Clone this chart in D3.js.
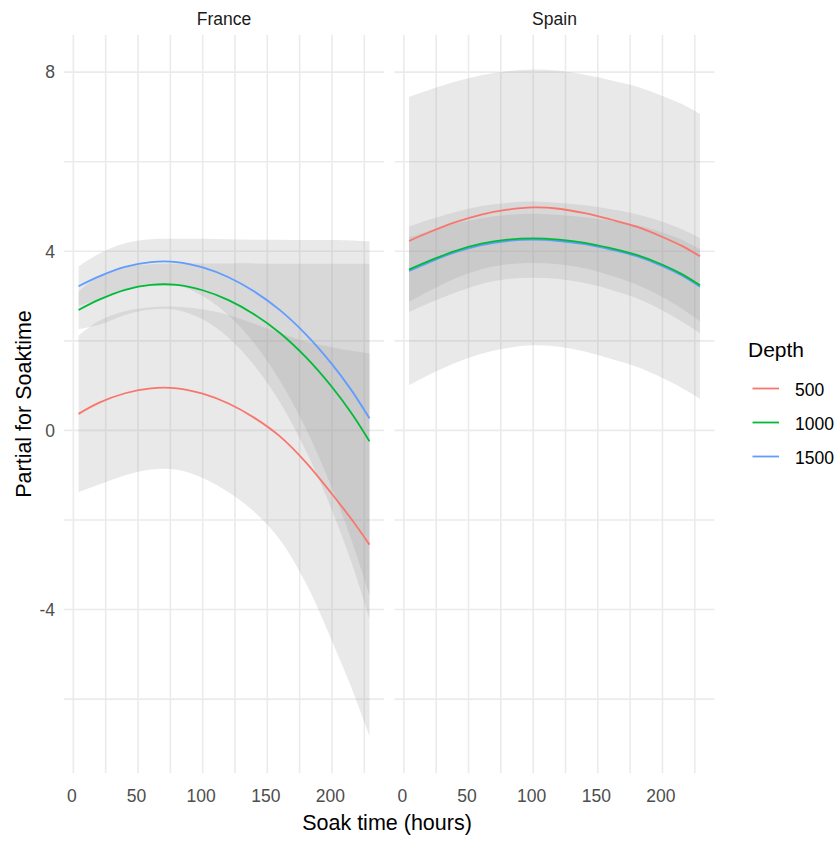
<!DOCTYPE html>
<html>
<head>
<meta charset="utf-8">
<script src="https://cdn.jsdelivr.net/npm/d3@7"></script>
<style>
  html, body { margin: 0; padding: 0; background: #ffffff; }
  svg { display: block; }
  text { font-family: "Liberation Sans", Arial, sans-serif; }
</style>
</head>
<body>
<svg id="chart" width="838" height="842"></svg>
<script>
// ---------------- data ----------------
const soakHours = [4, 20, 40, 60, 80, 100, 120, 140, 160, 180, 200, 215, 229];
const countries = ["France", "Spain"];
const depths = ["500", "1000", "1500"];
const depthColors = ["#F8766D", "#00BA38", "#619CFF"];

// France
const franceFit500   = [0.37, 0.62, 0.83, 0.94, 0.94, 0.82, 0.60, 0.28, -0.14, -0.72, -1.42, -1.98, -2.55];
const franceUpper500 = [2.12, 2.45, 2.66, 2.75, 2.76, 2.70, 2.58, 2.38, 2.17, 1.98, 1.86, 1.78, 1.72];
const franceLower500 = [-1.38, -1.21, -1.00, -0.87, -0.88, -1.06, -1.38, -1.82, -2.45, -3.42, -4.70, -5.74, -6.82];

const franceFit1000   = [2.69, 2.92, 3.14, 3.25, 3.25, 3.13, 2.91, 2.59, 2.17, 1.63, 0.97, 0.39, -0.24];
const franceUpper1000 = [3.10, 3.45, 3.64, 3.71, 3.73, 3.73, 3.73, 3.73, 3.72, 3.72, 3.72, 3.72, 3.72];
const franceLower1000 = [2.26, 2.36, 2.58, 2.70, 2.69, 2.48, 2.07, 1.45, 0.62, -0.46, -1.78, -2.94, -4.20];

const franceFit1500   = [3.22, 3.44, 3.65, 3.76, 3.76, 3.64, 3.42, 3.10, 2.68, 2.14, 1.48, 0.90, 0.27];
const franceUpper1500 = [3.66, 3.95, 4.18, 4.27, 4.28, 4.28, 4.27, 4.26, 4.26, 4.25, 4.25, 4.24, 4.22];
const franceLower1500 = [2.78, 2.93, 3.12, 3.25, 3.24, 3.00, 2.57, 1.94, 1.10, 0.03, -1.29, -2.44, -3.68];

// Spain
const spainFit500   = [4.23, 4.43, 4.65, 4.82, 4.93, 4.98, 4.95, 4.85, 4.71, 4.55, 4.32, 4.12, 3.89];
const spainUpper500 = [7.45, 7.61, 7.79, 7.93, 8.02, 8.06, 8.03, 7.94, 7.82, 7.68, 7.47, 7.29, 7.07];
const spainLower500 = [1.01, 1.25, 1.51, 1.71, 1.84, 1.90, 1.87, 1.76, 1.60, 1.42, 1.17, 0.95, 0.71];

const spainFit1000   = [3.59, 3.79, 4.01, 4.17, 4.26, 4.29, 4.26, 4.19, 4.07, 3.92, 3.70, 3.49, 3.24];
const spainUpper1000 = [4.31, 4.46, 4.62, 4.74, 4.81, 4.84, 4.81, 4.76, 4.68, 4.58, 4.42, 4.26, 4.05];
const spainLower1000 = [2.87, 3.12, 3.40, 3.60, 3.71, 3.74, 3.71, 3.62, 3.46, 3.26, 2.98, 2.72, 2.43];

const spainFit1500   = [3.56, 3.76, 3.98, 4.14, 4.23, 4.26, 4.23, 4.16, 4.04, 3.89, 3.67, 3.46, 3.21];
const spainUpper1500 = [4.55, 4.71, 4.88, 5.01, 5.08, 5.11, 5.08, 5.03, 4.94, 4.83, 4.66, 4.49, 4.29];
const spainLower1500 = [2.64, 2.85, 3.08, 3.27, 3.38, 3.41, 3.38, 3.29, 3.14, 2.95, 2.68, 2.43, 2.17];

const xTicks = [0, 50, 100, 150, 200];
const xMinorTicks = [25, 75, 125, 175, 225];
const yTicks = [-4, 0, 4, 8];
const yMinorTicks = [-6, -2, 2, 6];

const xTitle = "Soak time (hours)";
const yTitle = "Partial for Soaktime";
const legendTitle = "Depth";

// ---------------- assemble ----------------
const panelData = {
  France: [
    { fit: franceFit500, lo: franceLower500, hi: franceUpper500 },
    { fit: franceFit1000, lo: franceLower1000, hi: franceUpper1000 },
    { fit: franceFit1500, lo: franceLower1500, hi: franceUpper1500 }
  ],
  Spain: [
    { fit: spainFit500, lo: spainLower500, hi: spainUpper500 },
    { fit: spainFit1000, lo: spainLower1000, hi: spainUpper1000 },
    { fit: spainFit1500, lo: spainLower1500, hi: spainUpper1500 }
  ]
};

// ---------------- layout ----------------
const svg = d3.select("#chart");
const panelTop = 35, panelBottom = 773, panelWidth = 320;
const panelLefts = { France: 64, Spain: 394.5 };

const y = d3.scaleLinear().domain([-7.65, 8.83]).range([panelBottom, panelTop]);

const gridColor = "#EBEBEB";
const textGrey = "#4D4D4D";
const smooth = d3.curveCatmullRom.alpha(0.5);

countries.forEach((country, ci) => {
  const x0 = panelLefts[country];
  const x = d3.scaleLinear().domain([-7.25, 240.25]).range([x0, x0 + panelWidth]);
  const g = svg.append("g");

  // grid
  const allX = xTicks.concat(xMinorTicks);
  const allY = yTicks.concat(yMinorTicks);
  g.selectAll("line.gy").data(allY).enter().append("line")
    .attr("x1", x0).attr("x2", x0 + panelWidth)
    .attr("y1", d => y(d)).attr("y2", d => y(d))
    .attr("stroke", gridColor).attr("stroke-width", 1.6);
  g.selectAll("line.gx").data(allX).enter().append("line")
    .attr("x1", d => x(d)).attr("x2", d => x(d))
    .attr("y1", panelTop).attr("y2", panelBottom)
    .attr("stroke", gridColor).attr("stroke-width", 1.6);

  const series = panelData[country];

  // ribbons
  const area = d3.area()
    .x((d, i) => x(soakHours[i]))
    .y0(d => y(d[0]))
    .y1(d => y(d[1]))
    .curve(smooth);
  series.forEach(s => {
    const pts = s.lo.map((v, i) => [v, s.hi[i]]);
    g.append("path").attr("d", area(pts))
      .attr("fill", "#999999").attr("fill-opacity", 0.22).attr("stroke", "none");
  });

  // lines (drawn 1500, 1000, 500)
  const line = d3.line()
    .x((d, i) => x(soakHours[i]))
    .y(d => y(d))
    .curve(smooth);
  [2, 1, 0].forEach(k => {
    g.append("path").attr("d", line(series[k].fit))
      .attr("fill", "none").attr("stroke", depthColors[k]).attr("stroke-width", 1.8);
  });

  // x tick labels
  g.selectAll("text.xt").data(xTicks).enter().append("text")
    .attr("x", d => x(d) - 1.5).attr("y", 802)
    .attr("text-anchor", "middle").attr("font-size", 17.5).attr("fill", textGrey)
    .text(d => d);

  // strip
  g.append("text").attr("x", x0 + panelWidth / 2).attr("y", 25)
    .attr("text-anchor", "middle").attr("font-size", 17.5).attr("fill", "#1A1A1A")
    .text(country);

  // y tick labels (only on first panel)
  if (ci === 0) {
    g.selectAll("text.yt").data(yTicks).enter().append("text")
      .attr("x", 55).attr("y", d => y(d) + 6.3)
      .attr("text-anchor", "end").attr("font-size", 17.5).attr("fill", textGrey)
      .text(d => d);
  }
});

// axis titles
svg.append("text").attr("x", 387).attr("y", 830)
  .attr("text-anchor", "middle").attr("font-size", 21.5).attr("fill", "#000000")
  .text(xTitle);
svg.append("text")
  .attr("transform", "translate(31,404) rotate(-90)")
  .attr("text-anchor", "middle").attr("font-size", 21.5).attr("fill", "#000000")
  .text(yTitle);

// legend
const legend = svg.append("g");
legend.append("text").attr("x", 748).attr("y", 357)
  .attr("font-size", 21).attr("fill", "#000000").text(legendTitle);
const keyY = d3.scalePoint().domain(depths).range([388.5, 456.5]);
depths.forEach((d, i) => {
  legend.append("line")
    .attr("x1", 752.5).attr("x2", 779).attr("y1", keyY(d)).attr("y2", keyY(d))
    .attr("stroke", depthColors[i]).attr("stroke-width", 1.8);
  legend.append("text").attr("x", 795).attr("y", keyY(d) + 7.3)
    .attr("font-size", 17.5).attr("fill", "#000000").text(d);
});
</script>
</body>
</html>
